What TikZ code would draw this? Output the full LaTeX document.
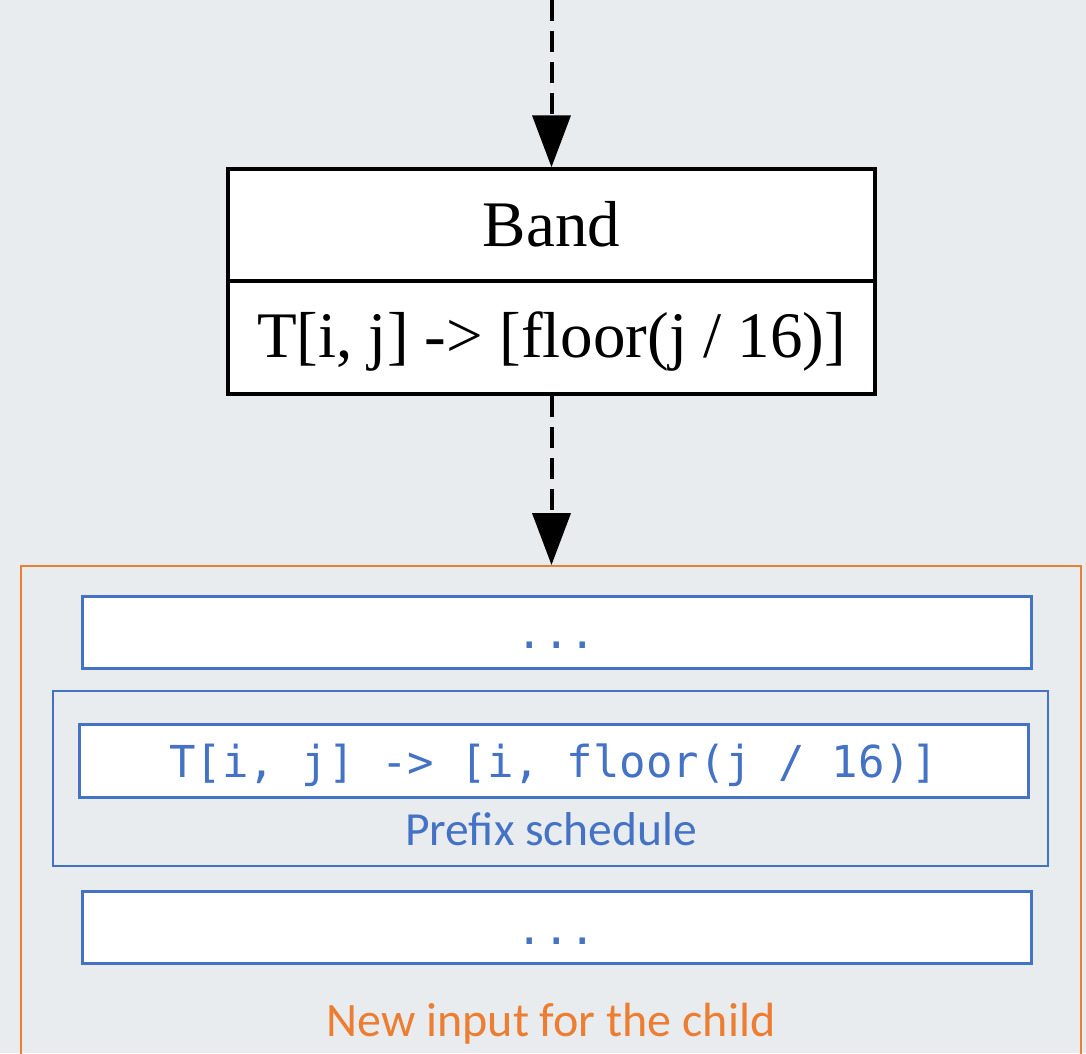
\documentclass[tikz,border=0pt]{standalone}
\usepackage{fontspec}
\setmainfont{Liberation Serif}
\newfontfamily\labelfont{Carlito}
\newfontfamily\codefont{DejaVu Sans Mono}
\usetikzlibrary{arrows.meta}
\definecolor{bgGray}{HTML}{E8ECEF}
\definecolor{accBlue}{HTML}{4472C4}
\definecolor{accOrange}{HTML}{ED7D31}

\begin{document}
\begin{tikzpicture}[x=1pt,y=-1pt,
  flow/.style={line width=4pt, dash pattern=on 21pt off 10pt,
    -{Triangle[length=52pt,width=38pt]}},
  bandcell/.style={draw=black, line width=3.5pt, fill=white,
    minimum width=647pt, inner sep=0pt, text depth=6pt,
    font=\fontsize{65}{70}\selectfont},
  codebox/.style={draw=accBlue, line width=3pt, fill=white,
    minimum width=949pt, minimum height=72pt, inner sep=0pt,
    text=accBlue, text height=39pt, text depth=6pt,
    font=\codefont\fontsize{44}{48}\selectfont},
  groupbox/.style={line width=2pt, inner sep=0pt},
  caption/.style={anchor=base, inner sep=0pt,
    font=\labelfont\fontsize{47.5}{52}\selectfont}
]
% canvas
\fill[bgGray] (0,0) rectangle (1086,1053);
\useasboundingbox (0,0) rectangle (1086,1053);

% Band node: title cell over mapping cell
\node[bandcell, minimum height=112pt, text height=48pt] (bandtop)
  at (551.5,225) {Band};
\node[bandcell, minimum height=113pt, text height=45pt] (bandbot)
  at (551.5,337.5) {T[i, j] -> [floor(j / 16)]};

% child input container (runs past the lower edge)
\node[groupbox, draw=accOrange, minimum width=1060pt, minimum height=534pt]
  (child) at (551,833) {};

% schedule entries
\node[codebox] (dotsA) at (556.5,632) {...};
\node[groupbox, draw=accBlue, minimum width=995pt, minimum height=175pt]
  (prefix) at (550.5,778.5) {};
\node[codebox, minimum height=73pt] (prefixmap) at (553.5,760.5)
  {T[i, j] -> [i, floor(j / 16)]};
\node[caption, text=accBlue] (prefixlbl) at (551,845) {Prefix schedule};
\node[codebox] (dotsB) at (556.5,927.5) {...};
\node[caption, text=accOrange, font=\labelfont\fontsize{48}{52}\selectfont]
  (childlbl) at (551,1036) {New input for the child};

% connectors
\coordinate (entry) at (551.5,0);
\draw[flow] (entry) -- (bandtop.north);
\draw[flow] (bandbot.south) -- (bandbot.south |- child.north);
\end{tikzpicture}
\end{document}
